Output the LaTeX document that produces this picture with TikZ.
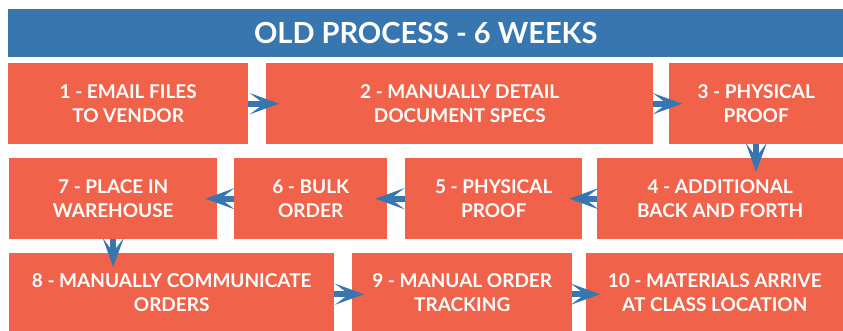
\documentclass[tikz,border=0pt]{standalone}
\usepackage{fontspec}
\setmainfont{Lato}
\usetikzlibrary{arrows.meta,calc}
\definecolor{boxred}{RGB}{240,98,74}
\definecolor{bannerblue}{RGB}{55,118,175}
\begin{document}
\begin{tikzpicture}[x=1pt,y=-1pt,
  box/.style={fill=boxred,draw=none,anchor=north west,inner sep=0pt,
    text=white,font=\fontsize{19}{24}\selectfont\bfseries,align=center},
  arr/.style={draw=bannerblue,line width=6pt,
    -{Stealth[length=29pt,width=21pt,inset=14pt]}}]
\useasboundingbox (0,0) rectangle (843,331);
\node[fill=bannerblue,anchor=north west,inner sep=0pt,minimum width=835pt,minimum height=48pt,
  text=white,font=\fontsize{29}{32}\selectfont\bfseries] (title) at (8,9) {OLD PROCESS - 6 WEEKS};
% row 1
\node[box,minimum width=240pt,minimum height=81pt] (b1) at (8,63) {1 - EMAIL FILES\\TO VENDOR};
\node[box,minimum width=387pt,minimum height=81pt] (b2) at (266,63) {2 - MANUALLY DETAIL\\DOCUMENT SPECS};
\node[box,minimum width=174pt,minimum height=81pt] (b3) at (669,63) {3 - PHYSICAL\\PROOF};
% row 2
\node[box,minimum width=208pt,minimum height=81pt] (b7) at (9,158) {7 - PLACE IN\\WAREHOUSE};
\node[box,minimum width=153pt,minimum height=81pt] (b6) at (234,158) {6 - BULK\\ORDER};
\node[box,minimum width=177pt,minimum height=81pt] (b5) at (405,158) {5 - PHYSICAL\\PROOF};
\node[box,minimum width=246pt,minimum height=81pt] (b4) at (597,158) {4 - ADDITIONAL\\BACK AND FORTH};
% row 3
\node[box,minimum width=325pt,minimum height=78pt] (b8) at (9,253) {8 - MANUALLY COMMUNICATE\\ORDERS};
\node[box,minimum width=220pt,minimum height=78pt] (b9) at (352,253) {9 - MANUAL ORDER\\TRACKING};
\node[box,minimum width=257pt,minimum height=78pt] (b10) at (586,253) {10 - MATERIALS ARRIVE\\AT CLASS LOCATION};
% arrows
\draw[arr] (b1.east) -- ($(b2.west)+(13,0)$);
\draw[arr] (b2.east) -- ($(b3.west)+(13,0)$);
\draw[arr] (b3.south) -- ($(b3.south |- b4.north)+(0,14)$);
\draw[arr] (b4.west) -- ($(b5.east)+(-13,0)$);
\draw[arr] (b5.west) -- ($(b6.east)+(-12,0)$);
\draw[arr] (b6.west) -- ($(b7.east)+(-12,0)$);
\draw[arr] (b7.south) -- ($(b7.south |- b8.north)+(0,14)$);
\draw[arr] ($(b8.east)+(0,2)$) -- ($(b9.west)+(12,2)$);
\draw[arr] ($(b9.east)+(0,2)$) -- ($(b10.west)+(14,2)$);
\end{tikzpicture}
\end{document}
